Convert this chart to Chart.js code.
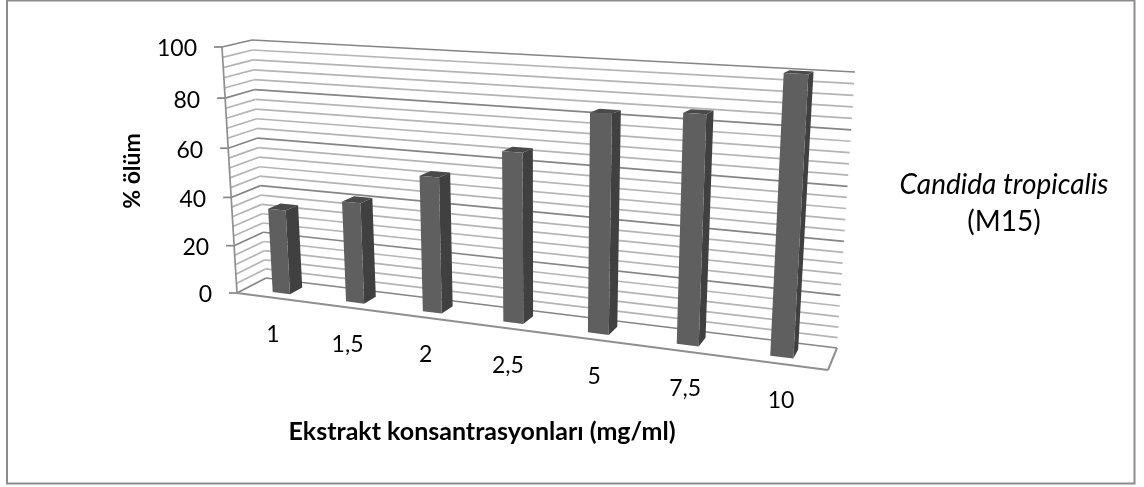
<!DOCTYPE html>
<html>
<head>
<meta charset="utf-8">
<style>
  html, body { margin: 0; padding: 0; background: #fff; }
  canvas { display: block; }
</style>
<script src="https://cdn.jsdelivr.net/npm/chart.js@4/dist/chart.umd.js"></script>
</head>
<body>
<canvas id="chart" width="1144" height="487"></canvas>
<script>
const categories = ["1", "1,5", "2", "2,5", "5", "7,5", "10"];
const deaths = [35, 41, 54, 66, 82.5, 84.5, 100];
const yMajorStep = 20;
const yMinorStep = 4;
const yTitle = "% ölüm";
const xTitle = "Ekstrakt konsantrasyonları (mg/ml)";
const sideNote = ["Candida tropicalis", "(M15)"];

// corners of the 3d box as the old spreadsheet drew it: TL, TR, BR, BL
const backWall = [[252, 40], [855, 72], [837, 348], [266, 278]];
const frontPlane = [[222, 47], [845, 78], [828, 370], [237, 293]];
const barDepth = [0.27, 0.7];

function quadMap(q) {
  const [[x0, y0], [x1, y1], [x2, y2], [x3, y3]] = q;
  const dx1 = x1 - x2, dx2 = x3 - x2, sx = x0 - x1 + x2 - x3;
  const dy1 = y1 - y2, dy2 = y3 - y2, sy = y0 - y1 + y2 - y3;
  const den = dx1 * dy2 - dx2 * dy1;
  const g = (sx * dy2 - dx2 * sy) / den;
  const h = (dx1 * sy - sx * dy1) / den;
  const a = x1 - x0 + g * x1, b = x3 - x0 + h * x3;
  const d = y1 - y0 + g * y1, e = y3 - y0 + h * y3;
  return (u, v) => {
    const w = g * u + h * v + 1;
    return [(a * u + b * v + x0) / w, (d * u + e * v + y0) / w];
  };
}
const backMap = quadMap(backWall);
const frontMap = quadMap(frontPlane);

// u, v are 0..1 across the plot, z goes 0 (back wall) to 1 (front)
function project(u, v, z) {
  const p = backMap(u, v), q = frontMap(u, v);
  return [p[0] + (q[0] - p[0]) * z, p[1] + (q[1] - p[1]) * z];
}

function fromPixels(area, px, py) {
  return [(px - area.left) / area.width, (py - area.top) / area.height];
}

function poly(ctx, pts, fill) {
  ctx.beginPath();
  pts.forEach((p, i) => (i ? ctx.lineTo(p[0], p[1]) : ctx.moveTo(p[0], p[1])));
  ctx.closePath();
  ctx.fillStyle = fill;
  ctx.fill();
}

function line(ctx, a, b, color, width) {
  ctx.beginPath();
  ctx.moveTo(a[0], a[1]);
  ctx.lineTo(b[0], b[1]);
  ctx.strokeStyle = color;
  ctx.lineWidth = width;
  ctx.stroke();
}

function label(ctx, text, x, y, font, align) {
  ctx.font = font;
  ctx.fillStyle = "#000";
  ctx.textAlign = align || "center";
  ctx.textBaseline = "middle";
  ctx.fillText(text, x, y);
}

class Bar3dController extends Chart.BarController {
  draw() {
    const ctx = this.chart.ctx;
    const area = this.chart.chartArea;
    const [zb, zf] = barDepth;
    this.getMeta().data.forEach((bar) => {
      const [ul, vt] = fromPixels(area, bar.x - bar.width / 2, bar.y);
      const [ur, vb] = fromPixels(area, bar.x + bar.width / 2, bar.base);
      const flt = project(ul, vt, zf), frt = project(ur, vt, zf);
      const frb = project(ur, vb, zf), flb = project(ul, vb, zf);
      const blt = project(ul, vt, zb), brt = project(ur, vt, zb);
      const brb = project(ur, vb, zb);
      poly(ctx, [flt, frt, brt, blt], "#4a4a4a");
      poly(ctx, [frt, brt, brb, frb], "#404040");
      poly(ctx, [flt, frt, frb, flb], "#5f5f5f");
    });
  }
}
Bar3dController.id = "bar3d";
Bar3dController.defaults = Chart.BarController.defaults;
Bar3dController.overrides = Chart.BarController.overrides;
Chart.register(Bar3dController);

const boxPlugin = {
  id: "box3d",
  beforeDatasetsDraw(chart) {
    const ctx = chart.ctx;
    const area = chart.chartArea;
    const yScale = chart.scales.y;
    const xScale = chart.scales.x;

    // outer frame
    ctx.strokeStyle = "#8c8c8c";
    ctx.lineWidth = 2;
    ctx.strokeRect(7, 0.5, 1127.5, 483);

    yScale.ticks.forEach((t) => {
      const v = fromPixels(area, area.left, yScale.getPixelForValue(t.value))[1];
      const major = t.value % yMajorStep === 0;
      const color = major ? "#858585" : "#b4b4b4";
      const front = project(0, v, 1), corner = project(0, v, 0), right = project(1, v, 0);
      line(ctx, front, corner, color, 1.7);
      line(ctx, corner, right, color, 1.7);
      if (major) {
        line(ctx, [front[0] - 8, front[1]], front, "#858585", 1.7);
        label(ctx, String(t.value), front[0] - 25, front[1] + 2, "23px Lato", "right");
      }
    });

    // left axis and floor edge
    line(ctx, project(0, 0, 1), project(0, 1, 1), "#8f8f8f", 1.7);
    const fl = project(0, 1, 1), fr = project(1, 1, 1), br = project(1, 1, 0);
    line(ctx, fl, fr, "#8f8f8f", 2);
    line(ctx, fr, br, "#8f8f8f", 2);

    categories.forEach((c, i) => {
      const u = fromPixels(area, xScale.getPixelForValue(i), area.bottom)[0];
      const p = project(u, 1, 1);
      label(ctx, c, p[0] + 3 * u, p[1] + 37, "23px Lato");
    });

    label(ctx, xTitle, 482, 432, "bold 25px Lato");
    ctx.save();
    ctx.translate(133, 171);
    ctx.rotate(-Math.PI / 2);
    label(ctx, yTitle, 0, 0, "bold 23px Lato");
    ctx.restore();
    label(ctx, sideNote[0], 1004, 185, "italic 28px Lato");
    label(ctx, sideNote[1], 1004, 222, "28px Lato");
  }
};

new Chart(document.getElementById("chart"), {
  type: "bar3d",
  data: {
    labels: categories,
    datasets: [{
      data: deaths,
      backgroundColor: "#5f5f5f",
      barPercentage: 0.24,
      categoryPercentage: 1,
      clip: false
    }]
  },
  options: {
    responsive: false,
    animation: false,
    layout: { padding: { left: 237, right: 316, top: 47, bottom: 194 } },
    plugins: { legend: { display: false }, title: { display: false }, tooltip: { enabled: false } },
    scales: {
      x: { type: "category", display: false },
      y: { type: "linear", min: 0, max: 100, display: false, ticks: { stepSize: yMinorStep, autoSkip: false } }
    }
  },
  plugins: [boxPlugin]
});
</script>
</body>
</html>
